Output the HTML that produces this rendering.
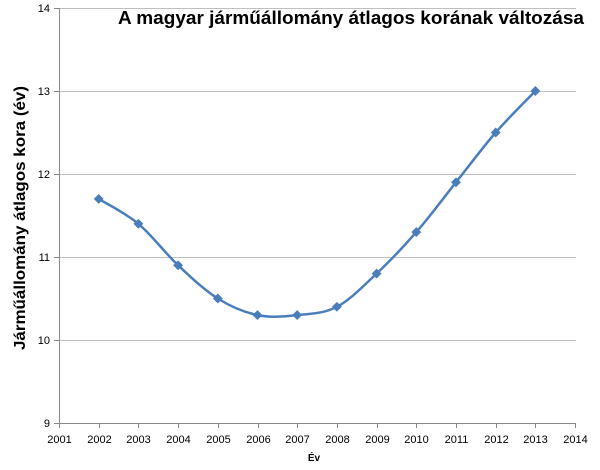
<!DOCTYPE html>
<html><head><meta charset="utf-8"><style>
body{margin:0;background:#fff;}
svg{display:block;font-family:"Liberation Sans",Arial,sans-serif;}
</style></head><body>
<svg id="s" width="600" height="470" xmlns="http://www.w3.org/2000/svg">
<g stroke="#bfbfbf" stroke-width="1">
<line x1="59" y1="8.5" x2="576" y2="8.5"/>
<line x1="59" y1="91.5" x2="576" y2="91.5"/>
<line x1="59" y1="174.5" x2="576" y2="174.5"/>
<line x1="59" y1="257.5" x2="576" y2="257.5"/>
<line x1="59" y1="340.5" x2="576" y2="340.5"/>
</g>
<g stroke="#888" stroke-width="1">
<line x1="59.5" y1="8" x2="59.5" y2="423"/>
<line x1="59" y1="423.5" x2="576" y2="423.5"/>
</g>
<g id="ticks" stroke="#888" stroke-width="1"></g>
<g font-size="11" fill="#000" text-anchor="end" id="yl">
<text x="50" y="12">14</text><text x="50" y="95">13</text><text x="50" y="178">12</text>
<text x="50" y="261">11</text><text x="50" y="344">10</text><text x="50" y="427">9</text>
</g>
<g font-size="11" fill="#000" text-anchor="middle" id="xl"></g>
<text x="314" y="461" font-size="10" font-weight="bold" text-anchor="middle">Év</text>
<text transform="translate(25,218) rotate(-90)" font-size="16" font-weight="bold" text-anchor="middle" textLength="264" lengthAdjust="spacingAndGlyphs">Járműállomány  átlagos  kora (év)</text>
<text x="118" y="24" font-size="18" font-weight="bold" textLength="466" lengthAdjust="spacingAndGlyphs">A magyar járműállomány átlagos korának változása</text>
<path id="ln" fill="none" stroke="#4a7ebb" stroke-width="2.5"/>
<g id="mk" fill="#4a7ebb"></g>
</svg>
<script>
var v=[11.7,11.4,10.9,10.5,10.3,10.3,10.4,10.8,11.3,11.9,12.5,13.0];
var P=v.map(function(a,i){return [59+39.7*(i+1),423-83*(a-9)];});
var d="M"+P[0][0]+","+P[0][1];
for(var i=0;i<P.length-1;i++){
var p0=P[i-1]||P[i],p1=P[i],p2=P[i+1],p3=P[i+2]||P[i+1],t=6;
d+=" C"+(p1[0]+(p2[0]-p0[0])/t)+","+(p1[1]+(p2[1]-p0[1])/t)+" "+(p2[0]-(p3[0]-p1[0])/t)+","+(p2[1]-(p3[1]-p1[1])/t)+" "+p2[0]+","+p2[1];}
document.getElementById("ln").setAttribute("d",d);
var ns="http://www.w3.org/2000/svg",mk=document.getElementById("mk"),tk=document.getElementById("ticks"),xl=document.getElementById("xl");
P.forEach(function(p){var r=document.createElementNS(ns,"rect");r.setAttribute("x",p[0]-3.5);r.setAttribute("y",p[1]-3.5);r.setAttribute("width",7);r.setAttribute("height",7);r.setAttribute("transform","rotate(45 "+p[0]+" "+p[1]+")");mk.appendChild(r);});
for(var k=0;k<=13;k++){var x=Math.round(59+39.7*k)+0.5;var l=document.createElementNS(ns,"line");l.setAttribute("x1",x);l.setAttribute("x2",x);l.setAttribute("y1",423);l.setAttribute("y2",428);tk.appendChild(l);
var t=document.createElementNS(ns,"text");t.setAttribute("x",x);t.setAttribute("y",443);t.textContent=2001+k;xl.appendChild(t);}
for(var j=0;j<6;j++){var y=8.5+83*j;var l2=document.createElementNS(ns,"line");l2.setAttribute("x1",54);l2.setAttribute("x2",59);l2.setAttribute("y1",y);l2.setAttribute("y2",y);tk.appendChild(l2);}
</script>
</body></html>
